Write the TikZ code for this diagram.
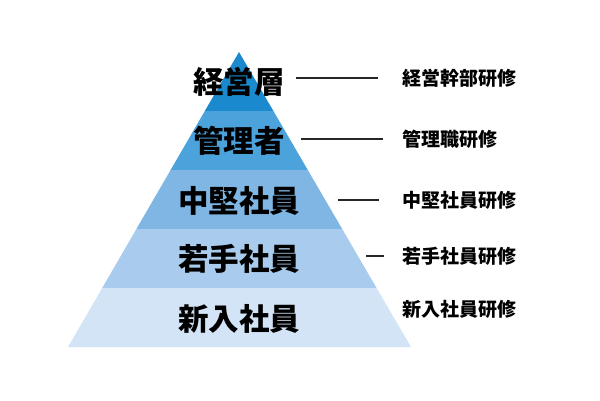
\documentclass[tikz,border=0pt]{standalone}
\usepackage{fontspec}
\setmainfont{Noto Sans CJK JP}
\usepackage{tikz}

\definecolor{lv1}{HTML}{1A89CD}
\definecolor{lv2}{HTML}{4CA3DC}
\definecolor{lv3}{HTML}{7FB6E3}
\definecolor{lv4}{HTML}{A9CCEE}
\definecolor{lv5}{HTML}{D2E4F6}

\begin{document}
\begin{tikzpicture}[x=1pt, y=-1pt,
  lyr/.style={inner sep=0pt, font=\fontsize{30.5}{34}\selectfont\bfseries},
  trn/.style={inner sep=0pt, anchor=west, font=\fontsize{19}{22}\selectfont\bfseries},
  ln/.style={line width=1.3pt, black!85}]
  \useasboundingbox (0,0) rectangle (600,400);
  \begin{scope}
    \clip (239,52) -- (411,347) -- (68,347) -- cycle;
    \foreach \c/\ya/\yb in {lv1/50/111, lv2/111/170, lv3/170/229, lv4/229/288, lv5/288/350}
      \fill[\c] (60,\ya) rectangle (420,\yb);
  \end{scope}
  \node[lyr] (keiei) at (239,82) {経営層};
  \node[lyr] (kanri) at (239,141) {管理者};
  \node[lyr] (chuken) at (239,201) {中堅社員};
  \node[lyr] (wakate) at (239,259) {若手社員};
  \node[lyr] (shinnyu) at (239,319) {新入社員};
  \node[trn] (keieiK) at (402,78) {経営幹部研修};
  \node[trn] (kanriK) at (402,139) {管理職研修};
  \node[trn] (chukenK) at (402,200) {中堅社員研修};
  \node[trn] (wakateK) at (402,256) {若手社員研修};
  \node[trn] (shinnyuK) at (402,309) {新入社員研修};
  \draw[ln] ([xshift=-24pt]keieiK.west) -- ++(-82,0);
  \draw[ln] ([xshift=-19pt]kanriK.west) -- ++(-82,0);
  \draw[ln] ([xshift=-23pt]chukenK.west) -- ++(-41,0);
  \draw[ln] ([xshift=-18pt]wakateK.west) -- ++(-18,0);
\end{tikzpicture}
\end{document}
